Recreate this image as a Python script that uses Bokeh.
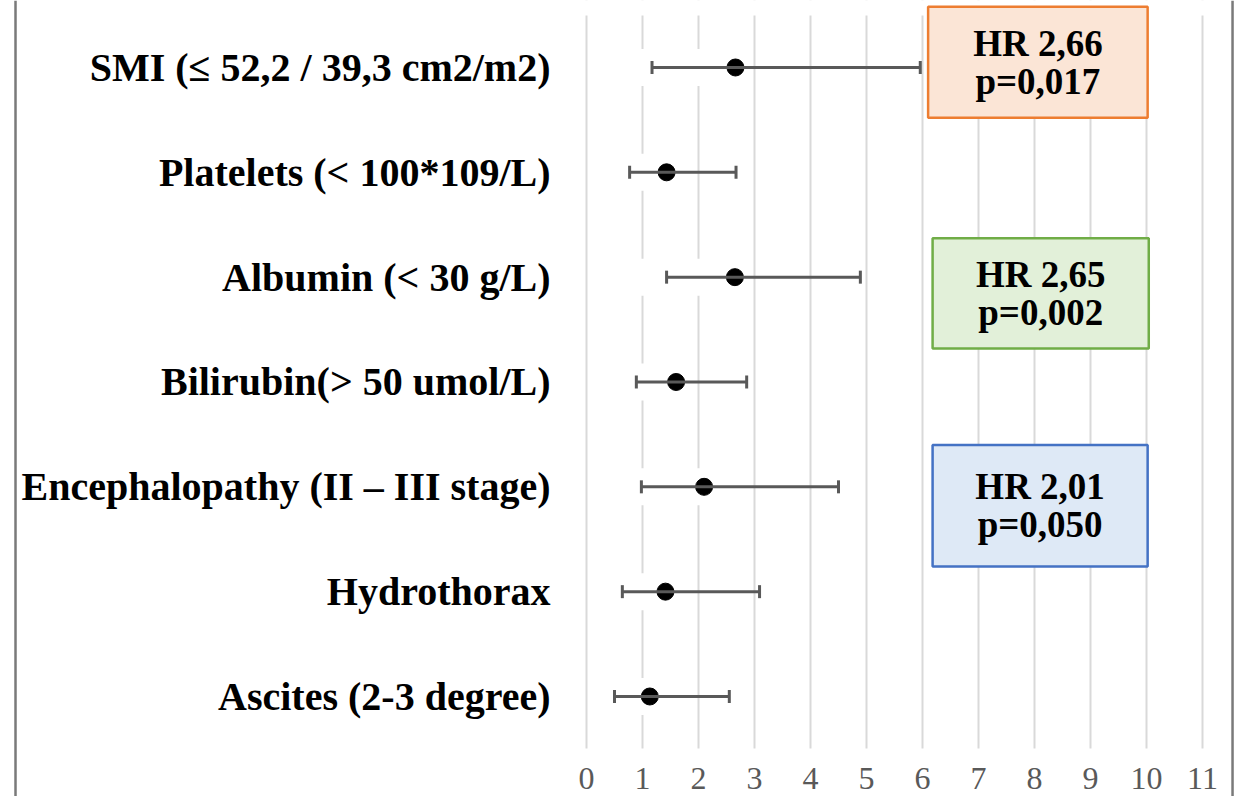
from bokeh.plotting import figure
from bokeh.models import (ColumnDataSource, Whisker, TeeHead, FixedTicker, Span,
                          BoxAnnotation, Range1d)
from bokeh.core.properties import value
from bokeh.embed import file_html
from bokeh.resources import INLINE

# ---------------- data ----------------
labels = ["SMI (≤ 52,2 / 39,3 cm2/m2)", "Platelets (< 100*109/L)", "Albumin (< 30 g/L)",
          "Bilirubin(> 50 umol/L)", "Encephalopathy (II – III stage)", "Hydrothorax",
          "Ascites (2-3 degree)"]
hr = [2.66, 1.43, 2.65, 1.60, 2.10, 1.41, 1.13]
ci_low = [1.17, 0.77, 1.43, 0.89, 0.98, 0.64, 0.50]
ci_high = [5.96, 2.67, 4.89, 2.86, 4.50, 3.09, 2.55]
x_ticks = [0, 1, 2, 3, 4, 5, 6, 7, 8, 9, 10, 11]
x_tick_labels = [str(t) for t in x_ticks]

box_hr = ["HR 2,66", "HR 2,65", "HR 2,01"]
box_p = ["p=0,017", "p=0,002", "p=0,050"]

# ---------------- layout / style ----------------
box_left = [6.10, 6.18, 6.18]
box_right = [10.02, 10.04, 10.02]
box_top = [7.58, 5.37, 3.40]
box_bottom = [6.52, 4.32, 2.24]
box_fill = ["#fbe5d6", "#e2f0d9", "#dee9f6"]
box_line = ["#ed7d31", "#70ad47", "#4472c4"]

serif = value("Liberation Serif")
ys = list(range(len(labels), 0, -1))

GRID_TOP = 7.496      # upper end of the vertical gridlines
GRID_BOTTOM = 0.504   # lower end of the vertical gridlines
TICK_LABEL_Y = 0.218  # vertical centre of the x tick labels

src = ColumnDataSource(dict(y=ys, label=labels, hr=hr, lo=ci_low, hi=ci_high))
bsrc = ColumnDataSource(dict(left=box_left, right=box_right, top=box_top, bottom=box_bottom,
                             yc=[(t + b) / 2 for t, b in zip(box_top, box_bottom)],
                             xc=[(l + r) / 2 for l, r in zip(box_left, box_right)],
                             fill=box_fill, line=box_line, hrt=box_hr, pt=box_p))
tsrc = ColumnDataSource(dict(x=x_ticks, y=[TICK_LABEL_Y] * len(x_ticks), t=x_tick_labels))

p = figure(width=1234, height=796, output_backend="svg", toolbar_location=None,
           x_range=Range1d(-10.464, 11.571), y_range=Range1d(0.046, 7.639),
           x_axis_location=None, y_axis_location=None,
           min_border_left=0, min_border_right=0, min_border_top=0, min_border_bottom=0,
           outline_line_color=None, background_fill_color="white",
           border_fill_color="white")

p.xgrid.ticker = FixedTicker(ticks=x_ticks)
p.xgrid.grid_line_color = "#d9d9d9"
p.xgrid.grid_line_width = 2
p.ygrid.grid_line_color = None

# white strips limiting the gridlines to the plot area
p.add_layout(BoxAnnotation(bottom=GRID_TOP, left=-0.5, right=11.6, fill_color="white",
                           fill_alpha=1, line_color=None, level="underlay"))
p.add_layout(BoxAnnotation(top=GRID_BOTTOM, left=-0.5, right=11.6, fill_color="white",
                           fill_alpha=1, line_color=None, level="underlay"))

# x tick labels
p.text(x="x", y="y", text="t", source=tsrc, text_font=serif, text_font_size="32px",
       text_align="center", text_baseline="middle", text_color="#595959")

# hidden (white) bars from 0 to HR, interrupting the grid lines
p.hbar(y="y", left=0.04, right="hr", height=0.353, source=src,
       fill_color="white", line_color=None)

# annotation boxes
p.quad(left="left", right="right", top="top", bottom="bottom", source=bsrc,
       fill_color="fill", line_color="line", line_width=2.5)
p.text(x="xc", y="yc", text="hrt", source=bsrc, text_font=serif, text_font_style="bold",
       text_font_size="37px", text_align="center", text_baseline="middle",
       text_color="black", y_offset=-19)
p.text(x="xc", y="yc", text="pt", source=bsrc, text_font=serif, text_font_style="bold",
       text_font_size="37px", text_align="center", text_baseline="middle",
       text_color="black", y_offset=19)

# category labels
p.text(x=-0.643, y="y", text="label", source=src, text_font=serif, text_font_style="bold",
       text_font_size="40px", text_align="right", text_baseline="middle", text_color="black")

# error bars
whisk = Whisker(source=src, base="y", lower="lo", upper="hi", dimension="width",
                line_color="#595959", line_width=3, level="overlay",
                upper_head=TeeHead(size=13, line_color="#595959", line_width=3),
                lower_head=TeeHead(size=13, line_color="#595959", line_width=3))
p.add_layout(whisk)

p.scatter(x="hr", y="y", source=src, size=17, fill_color="black", line_color="black",
          level="overlay")

# chart-area border (left / right)
for loc in (-10.196, 11.536):
    p.add_layout(Span(location=loc, dimension="height", line_color="#7a7a7a", line_width=2.5))

open("out.html", "w").write(file_html(p, INLINE))
